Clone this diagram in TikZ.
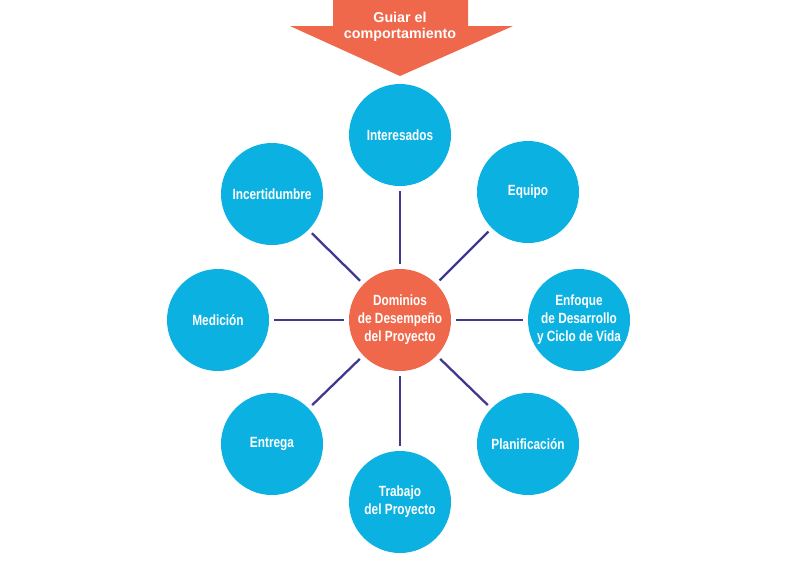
\documentclass[tikz,border=0pt]{standalone}
\usepackage{fontspec}
\setmainfont{Liberation Sans}
\newfontfamily\condfont[FakeStretch=0.80]{Liberation Sans}
\definecolor{cblue}{HTML}{0AB1E1}
\definecolor{corange}{HTML}{F0684C}
\definecolor{cline}{HTML}{41398F}
\begin{document}
\begin{tikzpicture}[x=1pt,y=-1pt,
  dom/.style={circle,fill=cblue,draw=none,minimum size=102pt,inner sep=0pt,outer sep=0pt,
    text=white,align=center,font=\condfont\bfseries\fontsize{14.8}{18}\selectfont},
  core/.style={dom,fill=corange},
  link/.style={draw=cline,line width=2.3pt,shorten >=5pt,shorten <=5pt}]
\useasboundingbox (0,0) rectangle (798,563);
% top arrow
\fill[corange] (333,0) -- (468,0) -- (468,26) -- (513,26) -- (400,76) -- (290,26) -- (333,26) -- cycle;
\node[text=white,align=center,font=\bfseries\fontsize{14.3}{16}\selectfont] (guide) at (400,27) {Guiar el\\comportamiento};
% circles
\node[core] (c) at (400,320) {Dominios\\de Desempeño\\del Proyecto};
\node[dom] (int) at (400,135) {Interesados};
\node[dom] (equ) at (528,192) {Equipo};
\node[dom] (enf) at (579,320) {Enfoque\\de Desarrollo\\y Ciclo de Vida};
\node[dom] (pla) at (528,444) {Planificación};
\node[dom] (tra) at (400,502) {Trabajo\\del Proyecto};
\node[dom] (ent) at (272,444) {Entrega};
\node[dom] (med) at (218,320) {Medición};
\node[dom] (inc) at (272,194) {Incertidumbre};
% links
\foreach \n in {int,equ,enf,pla,tra,ent,med,inc}
  \draw[link] (c) -- (\n);
\end{tikzpicture}
\end{document}
